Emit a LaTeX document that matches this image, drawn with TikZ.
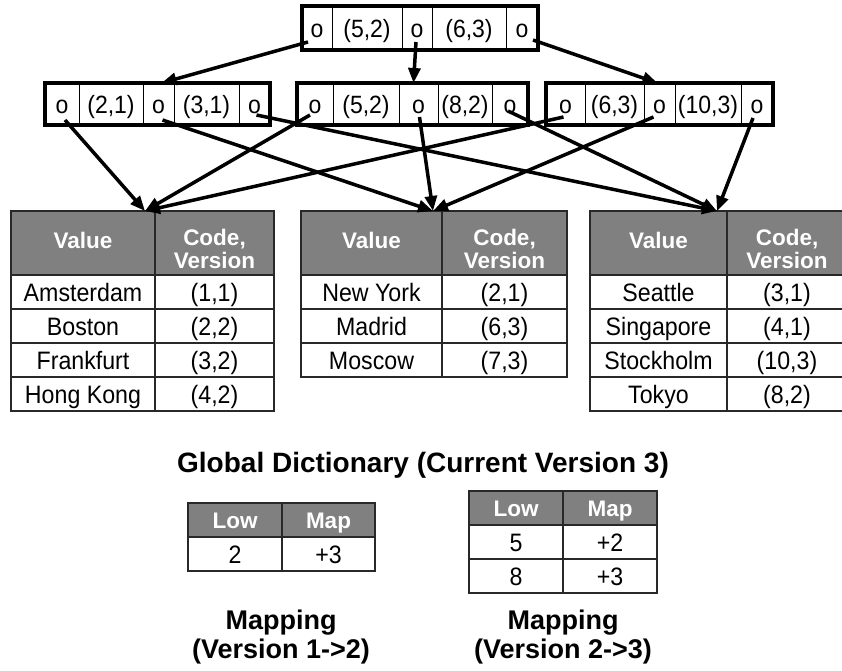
\documentclass[tikz,border=0pt]{standalone}
\usepackage{fontspec}
\setmainfont{Liberation Sans}
\newfontfamily\tallsans{Liberation Sans}[FakeStretch=0.92]
\usetikzlibrary{arrows.meta,calc}
\definecolor{hdrgray}{RGB}{128,128,128}
\definecolor{tabline}{RGB}{40,40,40}
\newcommand\keyfont{\tallsans\fontsize{25}{29}\selectfont}
\newcommand\cellfont{\tallsans\fontsize{25.2}{29}\selectfont}
\newcommand\hdrfont{\bfseries\fontsize{22.5}{23}\selectfont}
\newcommand\capfont{\bfseries\fontsize{27}{29}\selectfont}
\newcommand\titlefont{\bfseries\fontsize{28}{30}\selectfont}

\begin{document}
\begin{tikzpicture}[x=1pt,y=-1pt,
  kc/.style 2 args={draw=black, line width=0.9pt, fill=white, font=\keyfont,
    inner sep=0pt, outer sep=0pt, anchor=north west,
    text height=18pt, text depth=0pt,
    minimum width=#1, minimum height=#2},
  frame/.style={line width=3.5pt},
  th/.style 2 args={draw=tabline, line width=1.3pt, fill=hdrgray,
    inner sep=0pt, outer sep=0pt, anchor=north west,
    minimum width=#1, minimum height=#2},
  htxt/.style={text=white, font=\hdrfont, align=center, inner sep=0pt},
  hone/.style={text=white, font=\hdrfont, inner sep=0pt,
    text height=16.5pt, text depth=0pt},
  td/.style 2 args={draw=tabline, line width=1.3pt, fill=white, font=\cellfont,
    inner sep=0pt, outer sep=0pt, anchor=north west,
    text height=18pt, text depth=0pt,
    minimum width=#1, minimum height=#2},
  caption/.style={font=\capfont, align=center, inner sep=0pt},
  link/.style={line width=3.5pt, -{Triangle[length=15pt,width=12pt]}},
]
\useasboundingbox (0,0) rectangle (842,670);

% ---- root node of the B-tree ----
\node[kc={30}{44}] (T1) at (302,6) {o};
\node[kc={70}{44}] (T2) at (332,6) {(5,2)};
\node[kc={30}{44}] (T3) at (402,6) {o};
\node[kc={74}{44}] (T4) at (432,6) {(6,3)};
\node[kc={32}{44}] (T5) at (506,6) {o};
\draw[frame] (T1.north west) rectangle (T5.south east);

% ---- inner nodes ----
\node[kc={34}{42}] (L1) at (45,83) {o};
\node[kc={64}{42}] (L2) at (79,83) {(2,1)};
\node[kc={31}{42}] (L3) at (143,83) {o};
\node[kc={65}{42}] (L4) at (174,83) {(3,1)};
\node[kc={31}{42}] (L5) at (239,83) {o};
\draw[frame] (L1.north west) rectangle (L5.south east);

\node[kc={36}{42}] (M1) at (297,83) {o};
\node[kc={66}{42}] (M2) at (333,83) {(5,2)};
\node[kc={39}{42}] (M3) at (399,83) {o};
\node[kc={54}{42}] (M4) at (438,83) {(8,2)};
\node[kc={36}{42}] (M5) at (492,83) {o};
\draw[frame] (M1.north west) rectangle (M5.south east);

\node[kc={39}{42}] (R1) at (546,83) {o};
\node[kc={59}{42}] (R2) at (585,83) {(6,3)};
\node[kc={31}{42}] (R3) at (644,83) {o};
\node[kc={66}{42}] (R4) at (675,83) {(10,3)};
\node[kc={32}{42}] (R5) at (741,83) {o};
\draw[frame] (R1.north west) rectangle (R5.south east);

% ---- dictionary pages ----
\node[th={144}{64}] (A0) at (11,211) {};
\node[th={119}{64}] (A0c) at (155,211) {};
\node[hone] at ([shift={(0,-3)}]A0.center) {Value};
\node[htxt] at ([shift={(0,6)}]A0c.center) {Code,\\[0pt]Version};
\foreach \v/\c [count=\i] in {Amsterdam/{(1,1)},Boston/{(2,2)},Frankfurt/{(3,2)},Hong Kong/{(4,2)}}{
  \node[td={144}{34}] (A\i) at (11,{275+34*(\i-1)}) {\v};
  \node[td={119}{34}] (A\i c) at (155,{275+34*(\i-1)}) {\c};
}

\node[th={141}{64}] (B0) at (301,211) {};
\node[th={125}{64}] (B0c) at (442,211) {};
\node[hone] at ([shift={(0,-3)}]B0.center) {Value};
\node[htxt] at ([shift={(0,6)}]B0c.center) {Code,\\[0pt]Version};
\foreach \v/\c [count=\i] in {New York/{(2,1)},Madrid/{(6,3)},Moscow/{(7,3)}}{
  \node[td={141}{34}] (B\i) at (301,{275+34*(\i-1)}) {\v};
  \node[td={125}{34}] (B\i c) at (442,{275+34*(\i-1)}) {\c};
}

\node[th={137}{64}] (C0) at (590,211) {};
\node[th={120}{64}] (C0c) at (727,211) {};
\node[hone] at ([shift={(0,-3)}]C0.center) {Value};
\node[htxt] at ([shift={(0,6)}]C0c.center) {Code,\\[0pt]Version};
\foreach \v/\c [count=\i] in {Seattle/{(3,1)},Singapore/{(4,1)},Stockholm/{(10,3)},Tokyo/{(8,2)}}{
  \node[td={137}{34}] (C\i) at (590,{275+34*(\i-1)}) {\v};
  \node[td={120}{34}] (C\i c) at (727,{275+34*(\i-1)}) {\c};
}

\node[font=\titlefont, inner sep=0pt] (gd) at (423,465) {Global Dictionary (Current Version 3)};

% ---- version mappings ----
\node[th={94}{34}] (P0) at (188,503) {};
\node[th={93}{34}] (P0c) at (282,503) {};
\node[hone] at (P0.center) {Low};
\node[hone] at (P0c.center) {Map};
\node[td={94}{34}] (P1) at (188,537) {2};
\node[td={93}{34}] (P1c) at (282,537) {+3};
\node[caption] (cap1) at (281,637) {Mapping\\(Version 1->2)};

\node[th={94}{34}] (Q0) at (469,491) {};
\node[th={94}{34}] (Q0c) at (563,491) {};
\node[hone] at (Q0.center) {Low};
\node[hone] at (Q0c.center) {Map};
\node[td={94}{34}] (Q1) at (469,525) {5};
\node[td={94}{34}] (Q1c) at (563,525) {+2};
\node[td={94}{34}] (Q2) at (469,559) {8};
\node[td={94}{34}] (Q2c) at (563,559) {+3};
\node[caption] (cap2) at (563,637) {Mapping\\(Version 2->3)};

% ---- pointers from the root ----
\draw[link] ([shift={(-9,14)}]T1.center) -- ([xshift=3pt]L3.north);
\draw[link] ([shift={(-1,14)}]T3.center) -- ([xshift=-5pt]M3.north);
\draw[link] ([shift={(11,12)}]T5.center) -- ([xshift=-2pt]R3.north);

% ---- pointers from the inner nodes to the pages ----
\coordinate (pA) at ([xshift=-10pt]A0.north east);
\coordinate (pB) at ([xshift=-9pt]B0.north east);
\coordinate (pC) at ([xshift=-10pt]C0.north east);
\draw[link] ([shift={(3,16)}]L1.center) -- (pA);
\draw[link] ([shift={(4,16)}]L3.center) -- (pB);
\draw[link] ([shift={(2,11)}]L5.center) -- (pC);
\draw[link] ([shift={(-5,11)}]M1.center) -- (pA);
\draw[link] ([shift={(1,13)}]M3.center) -- (pB);
\draw[link] ([shift={(-2,7)}]M5.center) -- (pC);
\draw[link] ([shift={(-2,13)}]R1.center) -- (pA);
\draw[link] ([shift={(-6,13)}]R3.center) -- (pB);
\draw[link] ([shift={(-4,14)}]R5.center) -- (pC);
\end{tikzpicture}
\end{document}
